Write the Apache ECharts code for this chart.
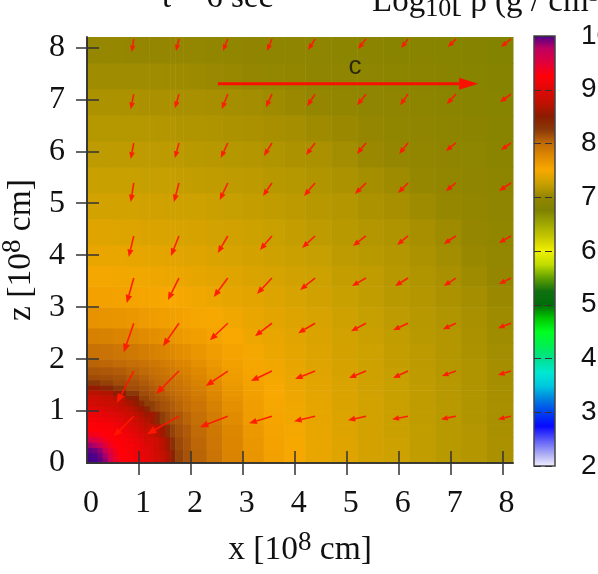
<!DOCTYPE html>
<html><head><meta charset="utf-8">
<style>html,body{margin:0;padding:0;background:#fff;overflow:hidden}#main{width:598px;height:574px;filter:blur(0.75px)}</style>
<script src="https://cdn.jsdelivr.net/npm/echarts@6/dist/echarts.min.js"></script>
</head><body><div id="main"></div>
<script>
const xEdges=[0,.25,.5,.75,1,1.2,1.3,1.4,1.5,1.6,1.7,1.85,2,2.3,2.6,3,3.4,3.8,4.2,4.7,5.2,5.7,6.2,6.7,7.2,7.7,8.2];
const zEdges=xEdges;
// log10 density per cell, bottom row first
const logRho=[
[9.92,9.72,9.43,9.21,9.06,8.95,8.88,8.78,8.68,8.45,8.2,8.12,8.03,7.92,7.8,7.66,7.56,7.49,7.42,7.37,7.31,7.27,7.22,7.18,7.15,7.11],
[9.66,9.52,9.33,9.14,9.02,8.92,8.82,8.73,8.6,8.33,8.17,8.1,8.02,7.91,7.79,7.65,7.55,7.49,7.42,7.37,7.31,7.27,7.22,7.18,7.15,7.11],
[9.37,9.29,9.17,9.05,8.93,8.79,8.7,8.6,8.36,8.2,8.13,8.08,7.99,7.89,7.77,7.63,7.54,7.48,7.42,7.36,7.31,7.26,7.22,7.18,7.15,7.1],
[9.14,9.09,9.02,8.92,8.77,8.62,8.4,8.22,8.17,8.12,8.09,8.03,7.96,7.86,7.74,7.6,7.53,7.47,7.41,7.36,7.3,7.26,7.21,7.18,7.14,7.1],
[8.96,8.94,8.86,8.72,8.48,8.22,8.17,8.13,8.11,8.07,8.03,7.98,7.92,7.82,7.71,7.59,7.52,7.46,7.41,7.35,7.3,7.26,7.21,7.18,7.14,7.1],
[8.85,8.79,8.7,8.48,8.2,8.14,8.12,8.09,8.07,8.03,7.99,7.95,7.88,7.79,7.68,7.58,7.51,7.45,7.4,7.35,7.3,7.25,7.21,7.17,7.14,7.09],
[8.72,8.68,8.52,8.25,8.15,8.12,8.08,8.06,8.03,8.0,7.96,7.92,7.86,7.77,7.66,7.57,7.5,7.45,7.4,7.35,7.29,7.25,7.21,7.17,7.14,7.09],
[8.55,8.42,8.25,8.15,8.12,8.08,8.05,8.03,8.0,7.97,7.94,7.9,7.84,7.75,7.64,7.56,7.5,7.44,7.39,7.34,7.29,7.25,7.21,7.17,7.13,7.09],
[8.25,8.2,8.15,8.12,8.08,8.04,8.01,7.99,7.97,7.94,7.92,7.87,7.81,7.73,7.62,7.55,7.49,7.44,7.39,7.34,7.29,7.25,7.2,7.17,7.13,7.08],
[8.15,8.14,8.12,8.08,8.04,8.0,7.98,7.96,7.94,7.92,7.88,7.85,7.79,7.7,7.6,7.54,7.48,7.43,7.38,7.33,7.28,7.24,7.2,7.17,7.13,7.08],
[8.1,8.09,8.07,8.03,7.99,7.96,7.94,7.92,7.9,7.87,7.84,7.81,7.76,7.67,7.59,7.53,7.47,7.42,7.37,7.32,7.28,7.24,7.2,7.16,7.13,7.08],
[8.03,8.02,8.0,7.97,7.94,7.91,7.89,7.87,7.85,7.83,7.8,7.77,7.71,7.63,7.57,7.52,7.46,7.41,7.36,7.32,7.27,7.23,7.19,7.16,7.13,7.08],
[7.94,7.93,7.91,7.88,7.85,7.83,7.81,7.8,7.78,7.76,7.73,7.7,7.65,7.59,7.54,7.48,7.44,7.4,7.36,7.31,7.27,7.23,7.19,7.15,7.12,7.07],
[7.82,7.81,7.8,7.77,7.74,7.72,7.71,7.69,7.68,7.66,7.63,7.6,7.58,7.54,7.5,7.45,7.42,7.38,7.35,7.3,7.26,7.22,7.18,7.15,7.11,7.06],
[7.68,7.67,7.66,7.64,7.61,7.6,7.59,7.58,7.58,7.57,7.56,7.54,7.52,7.49,7.46,7.42,7.39,7.36,7.33,7.28,7.24,7.2,7.17,7.14,7.1,7.05],
[7.56,7.56,7.55,7.54,7.53,7.52,7.52,7.51,7.5,7.5,7.49,7.48,7.46,7.44,7.41,7.39,7.36,7.33,7.29,7.25,7.22,7.18,7.15,7.12,7.08,7.03],
[7.48,7.48,7.47,7.46,7.46,7.45,7.45,7.45,7.44,7.44,7.43,7.42,7.41,7.39,7.37,7.35,7.33,7.29,7.27,7.23,7.21,7.17,7.14,7.1,7.05,7.0],
[7.42,7.42,7.42,7.41,7.41,7.4,7.4,7.4,7.39,7.39,7.38,7.37,7.37,7.35,7.33,7.31,7.28,7.26,7.24,7.2,7.18,7.15,7.12,7.07,7.02,6.99],
[7.37,7.37,7.36,7.36,7.35,7.35,7.35,7.34,7.34,7.34,7.33,7.33,7.32,7.3,7.29,7.27,7.25,7.23,7.2,7.18,7.15,7.13,7.09,7.05,7.0,6.97],
[7.3,7.3,7.3,7.3,7.29,7.29,7.29,7.29,7.28,7.28,7.28,7.27,7.27,7.26,7.24,7.23,7.21,7.19,7.17,7.15,7.12,7.09,7.05,7.01,6.98,6.95],
[7.25,7.25,7.25,7.25,7.24,7.24,7.24,7.24,7.24,7.24,7.23,7.23,7.22,7.21,7.2,7.19,7.17,7.16,7.14,7.12,7.08,7.05,7.01,6.98,6.95,6.92],
[7.2,7.2,7.2,7.2,7.2,7.2,7.2,7.19,7.19,7.19,7.19,7.18,7.18,7.17,7.16,7.15,7.14,7.12,7.11,7.07,7.03,7.0,6.98,6.95,6.93,6.9],
[7.16,7.16,7.16,7.16,7.16,7.16,7.15,7.15,7.15,7.15,7.14,7.14,7.14,7.13,7.12,7.11,7.09,7.08,7.05,7.03,7.0,6.97,6.95,6.92,6.9,6.88],
[7.12,7.12,7.12,7.12,7.11,7.11,7.11,7.11,7.11,7.11,7.1,7.1,7.1,7.09,7.08,7.07,7.05,7.03,7.0,6.98,6.96,6.94,6.92,6.9,6.88,6.85],
[7.06,7.06,7.06,7.06,7.06,7.06,7.06,7.06,7.05,7.05,7.05,7.05,7.04,7.03,7.02,7.0,6.99,6.98,6.96,6.94,6.93,6.91,6.89,6.87,6.85,6.83],
[7.01,7.01,7.01,7.0,7.0,7.0,7.0,7.0,7.0,7.0,7.0,7.0,6.99,6.98,6.97,6.96,6.95,6.94,6.93,6.91,6.9,6.88,6.87,6.85,6.83,6.81]
];
// finer cells over the hot core, 0 to 1.2 in both directions
const coreEdges=[0,.1,.2,.3,.4,.5,.6,.7,.8,.9,1,1.1,1.2];
const coreLogRho=[
[10,10,9.95,9.85,9.65,9.4,9.28,9.23,9.2,9.16,9.09,9.03],
[10,9.98,9.92,9.8,9.6,9.38,9.26,9.22,9.2,9.15,9.09,9.02],
[9.95,9.92,9.85,9.68,9.48,9.32,9.25,9.22,9.19,9.14,9.07,9.0],
[9.82,9.78,9.68,9.5,9.36,9.27,9.24,9.2,9.17,9.11,9.05,8.98],
[9.6,9.55,9.46,9.36,9.28,9.24,9.22,9.19,9.13,9.08,9.0,8.9],
[9.36,9.34,9.3,9.26,9.24,9.23,9.2,9.14,9.09,9.02,8.93,8.84],
[9.25,9.24,9.23,9.23,9.22,9.19,9.14,9.1,9.03,8.95,8.87,8.78],
[9.22,9.22,9.21,9.19,9.16,9.13,9.08,9.03,8.95,8.88,8.8,8.72],
[9.16,9.15,9.14,9.11,9.09,9.05,9.0,8.94,8.88,8.82,8.74,8.66],
[9.08,9.08,9.06,9.04,9.0,8.96,8.92,8.87,8.81,8.74,8.66,8.58],
[9.0,8.98,8.96,8.93,8.91,8.87,8.83,8.78,8.72,8.65,8.56,8.42],
[8.9,8.88,8.86,8.84,8.82,8.78,8.74,8.68,8.62,8.53,8.38,8.22]
];
// colour scale from 2 to 10 in steps of 0.25
const colorScale=['#f4f2fc','#a8a8f4','#5a5af8','#0808ff','#0040f0','#0080e0','#00c8e0','#00e8d0','#00e090','#00f050','#00ff20','#00c800','#006e08','#107010','#60a000','#c0dc00','#f0f000','#c8c800','#a0a800','#7e8200','#948600','#c8a000','#f8a800','#e08a00','#c06a08','#8a3808','#8c1c00','#c01000','#e00808','#ff0008','#e0003c','#c00060','#48008a'];
const xTicks=[0,1,2,3,4,5,6,7,8];
const zTicks=[0,1,2,3,4,5,6,7,8];
const barTicks=[2,3,4,5,6,7,8,9,10];
// velocity arrows: tail positions and components (quiver units, bottom row first, z points up)
const arrowX=[.9,1.77,2.71,3.56,4.39,5.37,6.18,7.1,8.16];
const arrowZ=[.9,1.77,2.69,3.56,4.37,5.39,6.16,7.1,8.16];
const arrowDx=[
[-20,-32,-28,-23,-21,-18,-16,-15,-13],
[-17,-23,-22,-21,-20,-17,-15,-14,-13],
[-10,-16,-18,-17,-17,-15,-15,-13,-13],
[-7,-11,-14,-15,-15,-14,-13,-12,-12],
[-5,-8,-10,-12,-13,-13,-11,-12,-12],
[-3,-5,-8,-9,-11,-11,-10,-10,-12],
[-3,-4,-7,-8,-9,-9,-9,-10,-10],
[-3,-4,-6,-6,-8,-9,-8,-9,-11],
[-2,-3,-5,-5,-7,-8,-7,-8,-10]];
const arrowDz=[
[-20,-18,-11,-7,-5,-4,-3,-3,-3],
[-32,-23,-15,-10,-8,-7,-7,-5,-4],
[-29,-23,-17,-13,-10,-8,-7,-6,-5],
[-25,-22,-19,-16,-12,-8,-8,-8,-6],
[-21,-20,-17,-14,-12,-10,-9,-8,-7],
[-19,-19,-17,-13,-13,-11,-10,-8,-8],
[-16,-15,-15,-13,-12,-11,-11,-8,-7],
[-15,-14,-15,-13,-12,-11,-11,-10,-8],
[-13,-12,-12,-12,-11,-10,-9,-8,-8]];
const quiverUnit=1/51.95;
const lightArrow=[[2.52,7.3,5.01,0]];

const cells=[];
logRho.forEach((row,j)=>row.forEach((v,i)=>cells.push([xEdges[i],xEdges[i+1],zEdges[j],zEdges[j+1],v])));
coreLogRho.forEach((row,j)=>row.forEach((v,i)=>cells.push([coreEdges[i],coreEdges[i+1],coreEdges[j],coreEdges[j+1],v])));
const arrows=[];
arrowZ.forEach((z,j)=>arrowX.forEach((x,i)=>arrows.push([x,z,arrowDx[j][i]*quiverUnit,arrowDz[j][i]*quiverUnit])));

const serif='"Liberation Serif","Times New Roman",serif', sans='"Liberation Sans",Arial,sans-serif';
const ink='#333', textInk='#111';
function arrowShape(api,lw,color,hlf,hwf,op){
  const a=api.coord([api.value(0),api.value(1)]);
  const b=api.coord([api.value(0)+api.value(2),api.value(1)+api.value(3)]);
  const dx=b[0]-a[0],dy=b[1]-a[1],len=Math.hypot(dx,dy),ux=dx/len,uy=dy/len;
  const hl=hlf(len),hw=hwf(len);
  const bx=b[0]-ux*hl,by=b[1]-uy*hl;
  return {type:'group',children:[
    {type:'line',shape:{x1:a[0],y1:a[1],x2:bx,y2:by},style:{stroke:color,lineWidth:lw,opacity:op}},
    {type:'polygon',shape:{points:[b,[bx-uy*hw,by+ux*hw],[bx+uy*hw,by-ux*hw]]},style:{fill:color,opacity:op}}
  ]};
}
const nameRich={a:{fontFamily:serif,fontSize:33.5,color:textInk},s:{fontFamily:serif,fontSize:27,color:textInk,verticalAlign:'bottom',padding:[0,0,16,0]}};
const axisBase={type:'value',min:0,max:8.2,z:5,axisLine:{show:true,lineStyle:{color:ink,width:1.6}},splitLine:{show:false}};
const chart=echarts.init(document.getElementById('main'),null,{renderer:'canvas'});
chart.setOption({
  animation:false,backgroundColor:'#fff',
  title:[
    {text:'t = 6 sec',left:157,top:-23,textStyle:{fontFamily:serif,fontSize:33,fontWeight:'normal',color:textInk}},
    {text:'{m|Log}{s|10}{m|[ ρ (g / cm}{u|3}{m|)]}',left:367,top:-23,textStyle:{fontWeight:'normal',rich:{
      m:{fontFamily:serif,fontSize:33,fontWeight:'normal',color:textInk},
      s:{fontFamily:serif,fontSize:26,fontWeight:'normal',color:textInk,verticalAlign:'top',padding:[14,0,0,0]},
      u:{fontFamily:serif,fontSize:22,fontWeight:'normal',color:textInk,verticalAlign:'bottom',padding:[0,0,16,0]}}}}
  ],
  grid:[{left:87,top:37,width:426,height:426,outerBoundsMode:'none'},{left:534,top:36,width:21,height:430,outerBoundsMode:'none'}],
  xAxis:[
    Object.assign({},axisBase,{gridIndex:0,position:'bottom',name:'{a|x [10}{s|8}{a| cm]}',nameLocation:'middle',nameGap:66,nameTextStyle:{rich:nameRich},
      axisTick:{inside:true,length:12,customValues:xTicks.slice(1),lineStyle:{color:ink,width:1.5}},
      axisLabel:{customValues:xTicks,margin:25,padding:[0,0,0,8],fontFamily:serif,fontSize:32,color:textInk}}),
    Object.assign({},axisBase,{gridIndex:0,position:'top',axisTick:{inside:true,length:12,customValues:xTicks.slice(1),lineStyle:{color:ink,width:1.5}},axisLabel:{show:false}}),
    {type:'value',gridIndex:1,min:0,max:1,show:false}
  ],
  yAxis:[
    Object.assign({},axisBase,{gridIndex:0,position:'left',name:'{a|z [10}{s|8}{a| cm]}',nameLocation:'middle',nameGap:37,nameRotate:90,nameTextStyle:{rich:nameRich},
      axisTick:{inside:true,length:12,customValues:zTicks.slice(1),lineStyle:{color:ink,width:1.5}},
      axisLabel:{customValues:zTicks,margin:22,fontFamily:serif,fontSize:32,color:textInk}}),
    Object.assign({},axisBase,{gridIndex:0,position:'right',axisTick:{inside:true,length:11,customValues:zTicks.slice(1),lineStyle:{color:ink,width:1.5}},axisLabel:{show:false}}),
    {type:'value',gridIndex:1,min:2,max:10,interval:1,position:'right',z:5,
      axisLine:{show:false},axisTick:{show:false},
      splitLine:{show:true,lineStyle:{color:'#333',width:1.2,type:[7,4]}},
      axisLabel:{customValues:barTicks,margin:26,fontFamily:sans,fontSize:28,color:textInk}}
  ],
  visualMap:{show:false,seriesIndex:0,dimension:4,min:2,max:10,inRange:{color:colorScale}},
  series:[
    {type:'custom',xAxisIndex:0,yAxisIndex:0,z:1,encode:{x:[0,1],y:[2,3]},data:cells,
     renderItem(p,api){
       const a=api.coord([api.value(0),api.value(3)]),b=api.coord([api.value(1),api.value(2)]);
       return {type:'rect',shape:{x:a[0],y:a[1],width:b[0]-a[0]+.5,height:b[1]-a[1]+.5},style:{fill:api.visual('color')}};
     }},
    {type:'custom',xAxisIndex:0,yAxisIndex:0,z:10,clip:false,encode:{x:0,y:1},data:arrows,
     renderItem(p,api){return arrowShape(api,1.6,'#ff1800',l=>5+l*.12,l=>2+l*.05,.95);}},
    {type:'custom',xAxisIndex:0,yAxisIndex:0,z:11,encode:{x:0,y:1},data:lightArrow,
     renderItem(p,api){return arrowShape(api,3,'#f81000',()=>19,()=>6,1);}},
    {type:'scatter',xAxisIndex:0,yAxisIndex:0,z:12,symbolSize:0,data:[[5.16,7.62]],
     label:{show:true,position:'inside',formatter:'c',fontFamily:sans,fontSize:26,color:textInk}},
    {type:'custom',xAxisIndex:2,yAxisIndex:2,z:1,encode:{x:[0,1],y:[2,3]},data:[[0,1,2,10]],
     renderItem(p,api){
       const a=api.coord([0,10]),b=api.coord([1,2]);
       const stops=colorScale.map((c,i)=>({offset:i/(colorScale.length-1),color:c}));
       return {type:'rect',shape:{x:a[0],y:a[1],width:b[0]-a[0],height:b[1]-a[1]},
         style:{fill:new echarts.graphic.LinearGradient(0,1,0,0,stops),stroke:'#444',lineWidth:1.5}};
     }}
  ]
});
</script></body></html>
